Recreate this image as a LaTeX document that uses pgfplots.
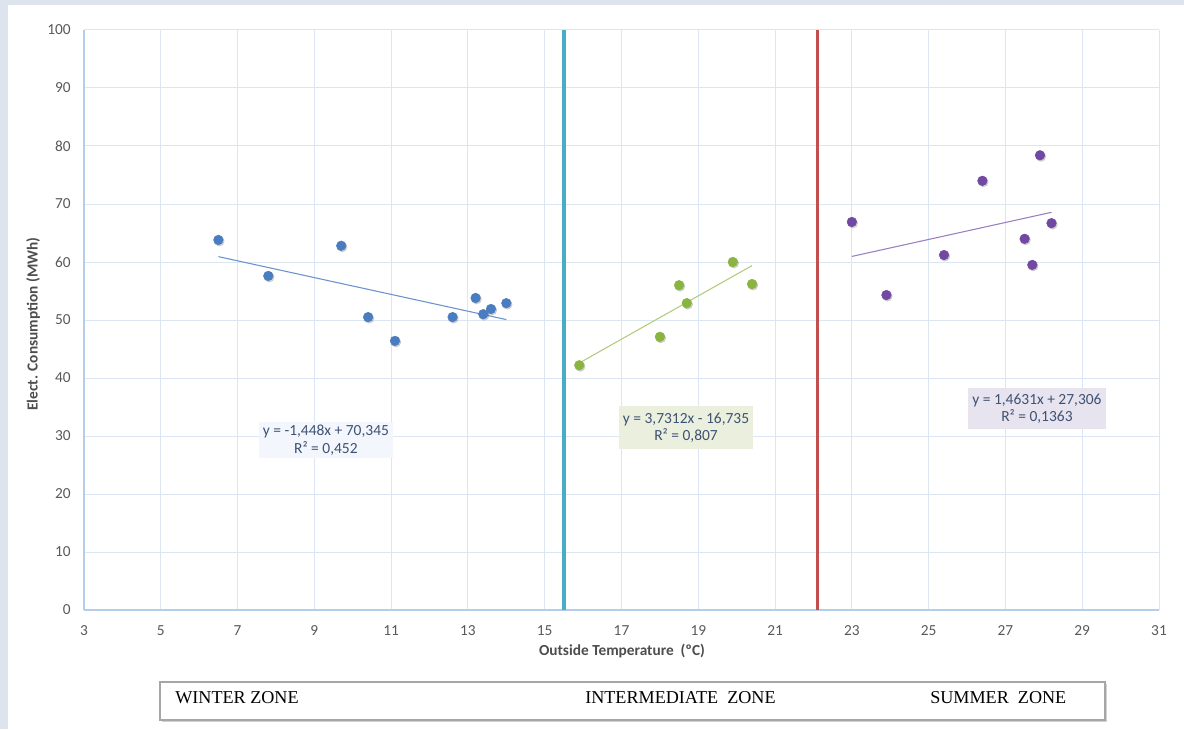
\documentclass[border=0pt]{standalone}
\usepackage{fontspec}
\setmainfont{Carlito}
\newfontfamily\timesfont{Liberation Serif}
\usepackage{pgfplots}
\pgfplotsset{compat=1.18}
\definecolor{bgc}{HTML}{DDE4EE}
\definecolor{gridc}{HTML}{DCE6F3}
\definecolor{axc}{HTML}{B4CDEB}
\definecolor{tickc}{HTML}{595959}
\definecolor{labc}{HTML}{4D4D4D}
\definecolor{wblue}{HTML}{4A7DC0}
\definecolor{wtrend}{HTML}{6A93CF}
\definecolor{igreen}{HTML}{8AB440}
\definecolor{itrend}{HTML}{B2CC7E}
\definecolor{spurple}{HTML}{7249A2}
\definecolor{strend}{HTML}{9A7EC2}
\definecolor{cyanl}{HTML}{4BACC6}
\definecolor{redl}{HTML}{C0504D}
\definecolor{eqc}{HTML}{3E5273}
\definecolor{wbox}{HTML}{F3F6FC}
\definecolor{ibox}{HTML}{EBF0DE}
\definecolor{sbox}{HTML}{E7E3EF}
\definecolor{boxc}{HTML}{A6A6A6}

\pgfplotstableread{
x y
6.5 63.8
7.8 57.6
9.7 62.8
10.4 50.5
11.1 46.4
12.6 50.5
13.2 53.8
13.4 51.0
13.6 51.9
14.0 52.9
}\winter
\pgfplotstableread{
x y
15.9 42.2
18.0 47.1
18.5 56.0
18.7 52.9
19.9 60.0
20.4 56.2
}\inter
\pgfplotstableread{
x y
23.0 66.9
23.9 54.3
25.4 61.2
26.4 74.0
27.5 64.0
27.7 59.5
27.9 78.4
28.2 66.7
}\summer

\begin{document}
\begin{tikzpicture}
\useasboundingbox (0,0) rectangle (888pt,546.75pt);
\fill[bgc] (0,0) rectangle (888pt,546.75pt);
\fill[white] (6pt,0) rectangle (888pt,543pt);
\begin{axis}[
  at={(63pt,89.25pt)}, anchor=south west,
  scale only axis, width=806.25pt, height=435pt,
  xmin=3, xmax=31, ymin=0, ymax=100,
  xtick={3,5,...,31}, ytick={0,10,...,100},
  axis x line*=bottom, axis y line*=left,
  axis line style={-, draw=axc, line width=0.8pt},
  grid=major, major grid style={draw=gridc, line width=0.75pt},
  tick style={draw=none},
  /pgf/number format/assume math mode=true,
  ticklabel style={font=\fontsize{11.5}{12}\selectfont, text=tickc},
  yticklabel style={xshift=-6.5pt},
  xticklabel style={yshift=-8pt},
  xlabel={Outside Temperature\ \ (ºC)},
  ylabel={Elect. Consumption (MWh)},
  xlabel style={at={(axis description cs:0.5005,-0.0707)}, anchor=center, font=\fontsize{11.5}{12}\selectfont\bfseries, text=labc},
  ylabel style={at={(axis description cs:-0.0474,0.493)}, anchor=center, font=\fontsize{11.5}{12}\selectfont\bfseries, text=labc},
  clip=false,
]
\addplot[cyanl, line width=2.4pt] coordinates {(15.5,0) (15.5,100)};
\addplot[redl, line width=2.4pt] coordinates {(22.1,0) (22.1,100)};
% trend lines
\addplot[wtrend, line width=0.8pt] coordinates {(6.5,60.93) (14.0,50.07)};
\addplot[itrend, line width=0.8pt] coordinates {(15.9,42.59) (20.4,59.38)};
\addplot[strend, line width=0.8pt] coordinates {(23.0,60.96) (28.2,68.57)};
% shadows
\addplot[only marks, mark=*, mark size=3.7pt, mark options={fill=black, draw=none, opacity=0.15}, every mark/.append style={xshift=0.7pt, yshift=-0.9pt}] table {\winter};
\addplot[only marks, mark=*, mark size=3.7pt, mark options={fill=black, draw=none, opacity=0.15}, every mark/.append style={xshift=0.7pt, yshift=-0.9pt}] table {\inter};
\addplot[only marks, mark=*, mark size=3.7pt, mark options={fill=black, draw=none, opacity=0.15}, every mark/.append style={xshift=0.7pt, yshift=-0.9pt}] table {\summer};
% points
\addplot[only marks, mark=*, mark size=3.6pt, mark options={fill=wblue, draw=wblue}] table {\winter};
\addplot[only marks, mark=*, mark size=3.6pt, mark options={fill=igreen, draw=igreen}] table {\inter};
\addplot[only marks, mark=*, mark size=3.6pt, mark options={fill=spurple, draw=spurple}] table {\summer};
% equation boxes
\node[fill=wbox, minimum width=100pt, minimum height=27pt, inner sep=1pt, align=center, text=eqc, font=\fontsize{11.6}{13}\selectfont] at (axis cs:9.30,29.3) {y = -1,448x + 70,345\\R² = 0,452};
\node[fill=ibox, minimum width=100.5pt, minimum height=32pt, inner sep=1pt, align=center, text=eqc, font=\fontsize{11.6}{13}\selectfont] at (axis cs:18.68,31.47) {y = 3,7312x - 16,735\\R² = 0,807};
\node[fill=sbox, minimum width=103.5pt, minimum height=30.75pt, inner sep=1pt, align=center, text=eqc, font=\fontsize{11.6}{13}\selectfont] at (axis cs:27.82,34.74) {y = 1,4631x + 27,306\\R² = 0,1363};
\end{axis}
% zone box
\fill[black!18] (121.5pt,5.5pt) rectangle (830.25pt,34pt);
\draw[boxc, line width=1pt, fill=white] (120pt,6.75pt) rectangle (828.75pt,35.25pt);
\node[anchor=base west, inner sep=0pt, font=\timesfont\fontsize{13.6}{15}\selectfont] at (131.25pt,19.5pt) {WINTER ZONE};
\node[anchor=base west, inner sep=0pt, font=\timesfont\fontsize{13.6}{15}\selectfont] at (438.75pt,19.5pt) {INTERMEDIATE\ \ ZONE};
\node[anchor=base west, inner sep=0pt, font=\timesfont\fontsize{13.6}{15}\selectfont] at (697.5pt,19.5pt) {SUMMER\ \ ZONE};
\end{tikzpicture}
\end{document}
